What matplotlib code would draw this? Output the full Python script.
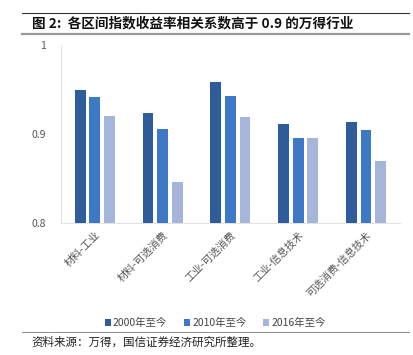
import numpy as np
import matplotlib
matplotlib.use('Agg')
from matplotlib import pyplot as plt
from matplotlib.lines import Line2D

plt.rcParams['font.family'] = ['Noto Sans CJK SC', 'DejaVu Sans']

# 数据
categories = ['材料-工业', '材料-可选消费', '工业-可选消费', '工业-信息技术', '可选消费-信息技术']
series_names = ['2000年至今', '2010年至今', '2016年至今']
v2000 = [0.949, 0.924, 0.958, 0.911, 0.913]
v2010 = [0.942, 0.906, 0.943, 0.896, 0.904]
v2016 = [0.920, 0.846, 0.919, 0.896, 0.870]
colors = ['#2F5D9B', '#3E79C6', '#A6B6DA']

fig = plt.figure(figsize=(4.14, 3.55), dpi=100)
ax = fig.add_axes([0.147, 0.372, 0.819, 0.501])

x = np.arange(len(categories))
w = 0.16
for i, (vals, name) in enumerate(zip([v2000, v2010, v2016], series_names)):
    ax.bar(x + (i - 1) * 0.215, vals, width=w, color=colors[i], label=name, zorder=3)

ax.set_ylim(0.8, 1.0)
ax.set_xlim(-0.5, len(categories) - 0.5)
ax.set_yticks([0.8, 0.9, 1.0])
ax.set_yticklabels(['0.8', '0.9', '1'])
ax.set_xticks(x)
ax.set_xticklabels(categories, rotation=45, ha='right', rotation_mode='anchor')
ax.tick_params(axis='x', length=0, labelsize=7.5, labelcolor='#555555', pad=5)
ax.tick_params(axis='y', length=0, labelsize=7.5, labelcolor='#555555', pad=11)

for s in ['top', 'right']:
    ax.spines[s].set_visible(False)
ax.spines['left'].set_color('#e2e2e2')
ax.spines['bottom'].set_color('#e2e2e2')
ax.spines['left'].set_linewidth(0.8)
ax.spines['bottom'].set_linewidth(0.8)

# 图例
leg = fig.legend(loc='center', bbox_to_anchor=(0.52, 0.09), ncol=3, frameon=False,
                 fontsize=7.5, handlelength=0.6, handleheight=0.6, handletextpad=0.2,
                 columnspacing=1.6)
for t in leg.get_texts():
    t.set_color('#444444')

# 标题与分隔线
fig.add_artist(Line2D([0.053, 0.987], [0.962, 0.962], color='#333333', lw=0.8))
fig.text(0.077, 0.934, '图 2:  各区间指数收益率相关系数高于 0.9 的万得行业',
         fontsize=9.8, fontweight='bold', va='center', color='#111111')
fig.add_artist(Line2D([0.053, 0.987], [0.903, 0.903], color='#9a9a9a', lw=1.6))
fig.add_artist(Line2D([0.053, 0.987], [0.065, 0.065], color='#777777', lw=0.6))
fig.text(0.077, 0.036, '资料来源：万得，国信证券经济研究所整理。', fontsize=8.3,
         va='center', color='#222222')

plt.savefig('out.png', dpi=100)
